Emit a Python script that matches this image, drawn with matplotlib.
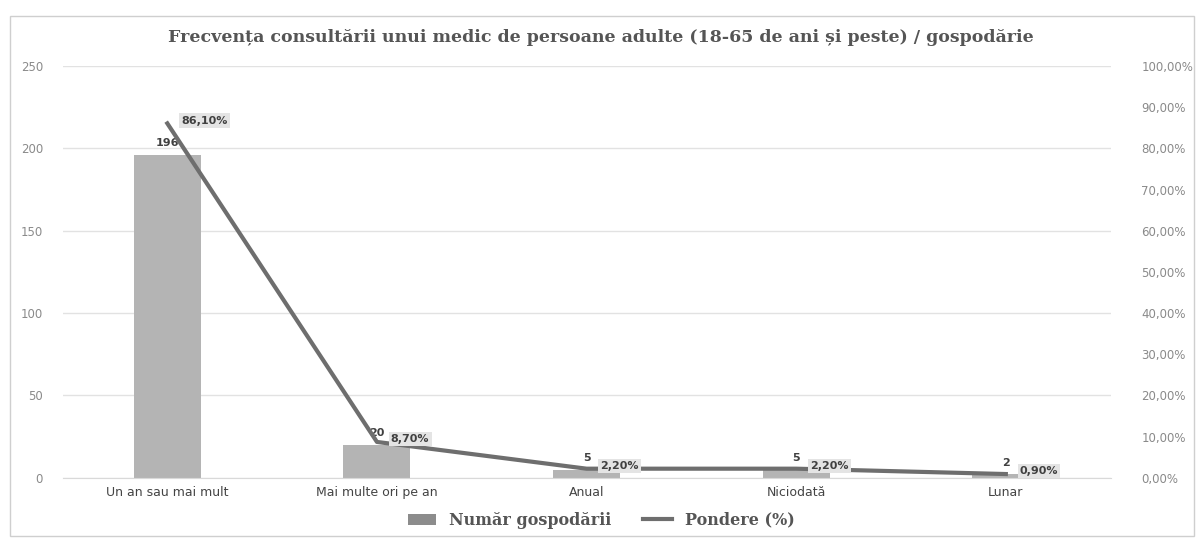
import numpy as np
import matplotlib.pyplot as plt
from matplotlib.patches import Rectangle
from matplotlib.lines import Line2D
from matplotlib.patches import Patch

categorii = ['Un an sau mai mult', 'Mai multe ori pe an', 'Anual', 'Niciodată', 'Lunar']
gospodarii = [196, 20, 5, 5, 2]
pondere = [86.10, 8.70, 2.20, 2.20, 0.90]
etichete_pondere = ['86,10%', '8,70%', '2,20%', '2,20%', '0,90%']

fig = plt.figure(figsize=(12.02, 5.38), dpi=100)
ax = fig.add_axes([0.052, 0.112, 0.872, 0.765])
ax2 = ax.twinx()

x = np.arange(len(categorii))
ax.bar(x, gospodarii, width=0.32, color='#b4b4b4', zorder=2)
ax2.plot(x, pondere, color='#6e6e6e', linewidth=3, zorder=3)

ax.set_xlim(-0.5, len(categorii) - 0.5)
ax.set_ylim(0, 250)
ax.set_yticks(np.arange(0, 251, 50))
ax2.set_ylim(0, 100)
ax2.set_yticks(np.arange(0, 101, 10))
ax2.set_yticklabels([f'{v},00%' for v in range(0, 101, 10)])

ax.yaxis.grid(True, color='#e2e2e2', linewidth=1, zorder=0)
ax.set_axisbelow(True)
for a in (ax, ax2):
    for s in a.spines.values():
        s.set_visible(False)
    a.tick_params(length=0, labelsize=8.5, colors='#8a8a8a')
ax2.tick_params(axis='y', pad=22)
ax.tick_params(axis='y', pad=14)
ax.spines['bottom'].set_visible(True)
ax.spines['bottom'].set_color('#d9d9d9')
ax.set_xticks(x)
ax.set_xticklabels(categorii, fontsize=9, color='#444444')
ax.tick_params(axis='x', pad=6)

# etichete bare
for xi, v in zip(x, gospodarii):
    ax.annotate(str(v), (xi, v), xytext=(0, 5), textcoords='offset points',
                ha='center', va='bottom', fontsize=8, fontweight='bold', color='#404040')

# etichete procente
for xi, p, t in zip(x, pondere, etichete_pondere):
    ax2.annotate(t, (xi, p), xytext=(10, 2), textcoords='offset points',
                 ha='left', va='center', fontsize=8, fontweight='bold', color='#404040',
                 bbox=dict(boxstyle='square,pad=0.2', fc='#e4e4e4', ec='none'))

fig.text(0.5, 0.93, 'Frecvența consultării unui medic de persoane adulte (18-65 de ani și peste) / gospodărie',
         ha='center', va='center', fontsize=12.5, fontweight='bold', color='#555555',
         family='DejaVu Serif')

handles = [Patch(facecolor='#8c8c8c'), Line2D([0], [0], color='#6e6e6e', linewidth=3)]
fig.legend(handles, ['Număr gospodării', 'Pondere (%)'], loc='center', ncol=2,
           bbox_to_anchor=(0.5, 0.033), frameon=False, handlelength=1.8, columnspacing=2,
           prop={'family': 'DejaVu Serif', 'weight': 'bold', 'size': 11.5},
           labelcolor='#555555')

fig.patches.append(Rectangle((0.008, 0.004), 0.985, 0.966, transform=fig.transFigure,
                             fill=False, edgecolor='#cfcfcf', linewidth=1))

plt.savefig('out.png', dpi=100)
